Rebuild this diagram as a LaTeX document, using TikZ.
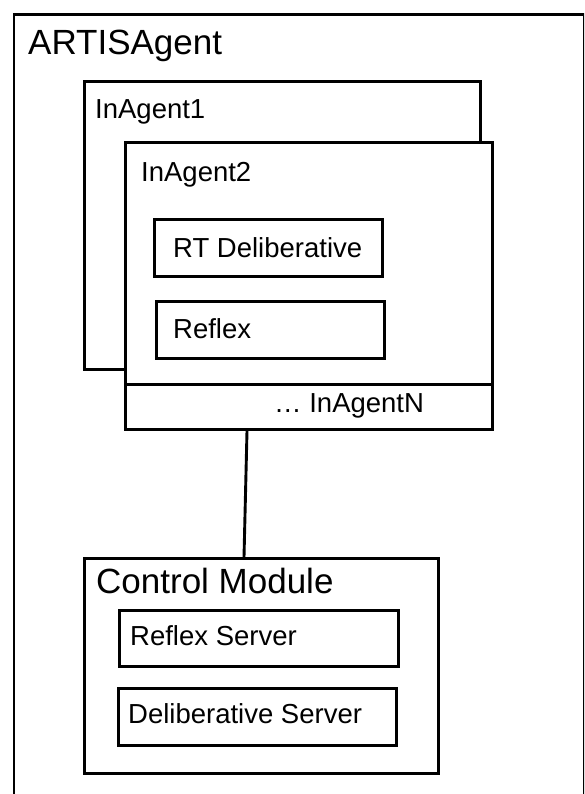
\documentclass[tikz,border=0pt]{standalone}
\usepackage{fontspec}
\setmainfont{Liberation Sans}
\usetikzlibrary{positioning}

\tikzset{
  box/.style={draw, rectangle, line width=2.9pt, fill=white, inner sep=0pt, anchor=north west},
  lbl/.style={inner sep=0pt, anchor=base west, font=\fontsize{27.5}{33}\selectfont},
  biglbl/.style={inner sep=0pt, anchor=base west, font=\fontsize{35}{42}\selectfont},
}

\begin{document}
\begin{tikzpicture}[x=1pt, y=-1pt]
    \useasboundingbox (0,0) rectangle (584,794);
    \clip (0,0) rectangle (584,794);

    % --- Outer agent (runs off the page on the right and bottom) ---
    \node[box, line width=2.6pt, minimum width=570pt, minimum height=800pt] (artis) at (12.5,13) {};
    \node[biglbl] (artisname) at (28,55) {ARTISAgent};

    % --- Stack of inner agents ---
    \node[box, minimum width=396pt, minimum height=288pt] (agent1) at (83,80) {};
    \node[lbl] (agent1name) at (95,119) {InAgent1};

    \node[box, minimum width=367pt, minimum height=242pt] (agent2) at (124,141) {};
    \node[lbl] (agent2name) at (141,182) {InAgent2};

    % strip for the last agent, hanging under InAgent2
    \node[box, minimum width=367pt, minimum height=45pt] (agentN) at (124,383) {};
    \node[lbl] (agentNname) at (274,412) {… InAgentN};

    % --- Layers inside InAgent2 ---
    \node[box, minimum width=228pt, minimum height=57pt] (rtdelib) at (153,218) {};
    \node[lbl] (rtdelibname) at (173,257) {RT Deliberative};
    \node[box, minimum width=228pt, minimum height=57pt] (reflex) at (155,300) {};
    \node[lbl] (reflexname) at (173,338) {Reflex};

    % --- Control module ---
    \node[box, minimum width=354pt, minimum height=215pt] (control) at (83,557) {};
    \node[biglbl] (controlname) at (96,593) {Control Module};
    \node[box, minimum width=279pt, minimum height=56pt] (reflexsrv) at (118,609) {};
    \node[lbl] (reflexsrvname) at (130,645) {Reflex Server};
    \node[box, minimum width=278pt, minimum height=57pt] (delibsrv) at (117,687) {};
    \node[lbl] (delibsrvname) at (128,723) {Deliberative Server};

    % link between the agents and the control module
    \draw[line width=2.9pt] ([xshift=123pt]agentN.south west) -- ([xshift=161pt]control.north west);

\end{tikzpicture}
\end{document}
